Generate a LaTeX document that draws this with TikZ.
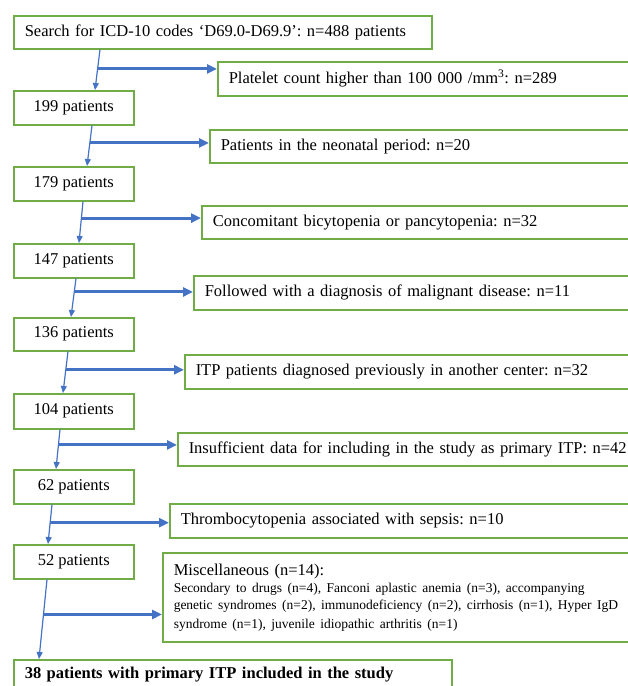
\documentclass[tikz,border=0pt]{standalone}
\usepackage{fontspec}
\setmainfont{Liberation Serif}
\usetikzlibrary{arrows.meta}
\definecolor{boxgreen}{HTML}{70AD47}
\definecolor{flowblue}{HTML}{4472C4}
\newcommand{\notefont}{\fontsize{13.5}{16.5}\selectfont}
\frenchspacing

\begin{document}
\begin{tikzpicture}[
    x=1pt, y=-1pt,
    every node/.style={font=\fontsize{16.5}{19}\selectfont\frenchspacing},
    count/.style={rectangle, draw=boxgreen, line width=1.5pt, anchor=north west,
        minimum width=120pt, minimum height=34pt, inner xsep=11pt, align=center},
    excluded/.style={rectangle, draw=boxgreen, line width=1.5pt, anchor=north west,
        minimum height=34pt, inner xsep=11pt, align=left},
    arrow/.style={-{Triangle[length=7pt,width=6pt]}, line width=1.2pt, draw=flowblue},
    branch/.style={-{Triangle[length=10pt,width=9pt]}, line width=3pt, draw=flowblue},
]
\useasboundingbox (0,0) rectangle (628,686);
\clip (0,0) rectangle (628,686);

% Remaining patients
\node[count, minimum height=33pt, text width=396pt, align=left] (search) at (13,15) {Search for ICD-10 codes ‘D69.0-D69.9’: n=488 patients};
\node[count] (p199) at (13,90) {199 patients};
\node[count] (p179) at (13,166) {179 patients};
\node[count] (p147) at (13,243) {147 patients};
\node[count, minimum height=33pt] (p136) at (13,317) {136 patients};
\node[count, minimum height=35pt] (p104) at (13,393) {104 patients};
\node[count] (p62) at (13,469) {62 patients};
\node[count] (p52) at (13,544) {52 patients};
\node[count, minimum height=30pt, text width=416pt, align=left, font=\fontsize{16.5}{19}\selectfont\bfseries] (final) at (13,659) {38 patients with primary ITP included in the study};

% Excluded patients
\node[excluded, text width=411pt] (plt) at (217,61) {Platelet count higher than 100 000 /mm\textsuperscript{3}: n=289};
\node[excluded, text width=419pt, minimum height=33pt] (neo) at (209,129) {Patients in the neonatal period: n=20};
\node[excluded, text width=427pt, minimum height=33pt] (cyto) at (201,205) {Concomitant bicytopenia or pancytopenia: n=32};
\node[excluded, text width=435pt] (malig) at (193,275) {Followed with a diagnosis of malignant disease: n=11};
\node[excluded, text width=444pt] (other) at (184,354) {ITP patients diagnosed previously in another center: n=32};
\node[excluded, text width=451pt, minimum height=33pt] (data) at (177,432) {Insufficient data for including in the study as primary ITP: n=42};
\node[excluded, text width=459pt] (sepsis) at (169,503) {Thrombocytopenia associated with sepsis: n=10};
\node[excluded, text width=466pt, minimum height=89pt] (misc) at (162,552) {Miscellaneous (n=14):\\[1pt]
    \notefont Secondary to drugs (n=4), Fanconi aplastic anemia (n=3), accompanying\\
    genetic syndromes (n=2), immunodeficiency (n=2), cirrhosis (n=1), Hyper IgD\\
    syndrome (n=1), juvenile idiopathic arthritis (n=1)};

% Arrows
\draw[arrow] ([xshift=87pt]search.south west) -- coordinate[pos=0.48] (b1) ([xshift=82pt]p199.north west);
\draw[arrow] ([xshift=79pt]p199.south west) -- coordinate[pos=0.43] (b2) ([xshift=74pt]p179.north west);
\draw[arrow] ([xshift=70pt]p179.south west) -- coordinate[pos=0.40] (b3) ([xshift=66pt]p147.north west);
\draw[arrow] ([xshift=63pt]p147.south west) -- coordinate[pos=0.35] (b4) ([xshift=58pt]p136.north west);
\draw[arrow] ([xshift=55pt]p136.south west) -- coordinate[pos=0.44] (b5) ([xshift=50pt]p104.north west);
\draw[arrow] ([xshift=47pt]p104.south west) -- coordinate[pos=0.39] (b6) ([xshift=43pt]p62.north west);
\draw[arrow] ([xshift=39pt]p62.south west) -- coordinate[pos=0.46] (b7) ([xshift=35pt]p52.north west);
\draw[arrow] ([xshift=34pt]p52.south west) -- coordinate[pos=0.44] (b8) ([xshift=26pt]final.north west);

% Exclusions
\draw[branch] (b1) -- (b1 -| plt.west);
\draw[branch] (b2) -- (b2 -| neo.west);
\draw[branch] (b3) -- (b3 -| cyto.west);
\draw[branch] (b4) -- (b4 -| malig.west);
\draw[branch] (b5) -- (b5 -| other.west);
\draw[branch] (b6) -- (b6 -| data.west);
\draw[branch] (b7) -- (b7 -| sepsis.west);
\draw[branch] (b8) -- (b8 -| misc.west);

\end{tikzpicture}
\end{document}
